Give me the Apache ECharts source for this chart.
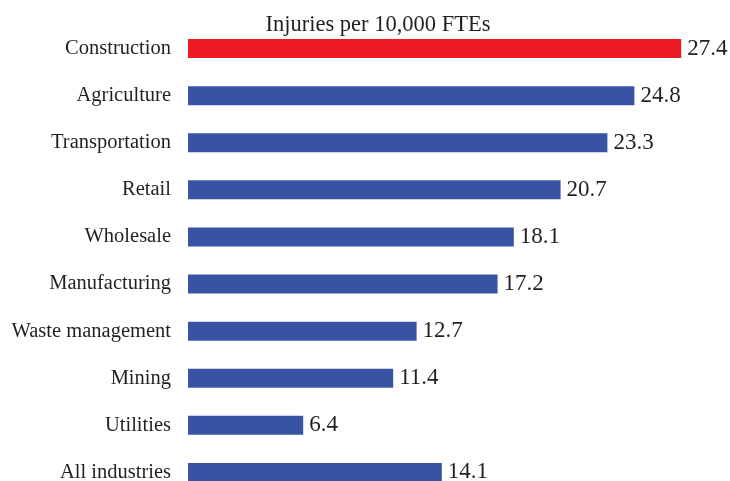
<!DOCTYPE html>
<html>
<head>
<meta charset="utf-8">
<script src="https://cdn.jsdelivr.net/npm/echarts@6/dist/echarts.min.js"></script>
<style>
  html, body { margin: 0; padding: 0; background: #fff; }
  #chart { width: 730px; height: 481px; }
</style>
</head>
<body>
<div id="chart"></div>
<script>
  // categories from top to bottom
  var industries = ['Construction', 'Agriculture', 'Transportation', 'Retail', 'Wholesale',
    'Manufacturing', 'Waste management', 'Mining', 'Utilities', 'All industries'];
  var injuryRates = [27.4, 24.8, 23.3, 20.7, 18.1, 17.2, 12.7, 11.4, 6.4, 14.1];
  var highlight = 'Construction';

  var chart = echarts.init(document.getElementById('chart'));
  var font = '"Liberation Serif", "Times New Roman", serif';

  var option = {
    animation: false,
    title: {
      text: 'Injuries per 10,000 FTEs',
      left: 373,
      top: 9,
      textAlign: 'center',
      textStyle: { fontFamily: font, fontSize: 22.5, fontWeight: 'normal', color: '#231f20' }
    },
    grid: { left: 188, right: 2, top: 25, height: 471, outerBoundsMode: 'none', containLabel: false },
    xAxis: {
      type: 'value',
      min: 0,
      max: 30,
      show: false
    },
    yAxis: {
      type: 'category',
      inverse: true,
      data: industries,
      axisLine: { show: false },
      axisTick: { show: false },
      axisLabel: { margin: 17, fontFamily: font, fontSize: 20.5, color: '#231f20' }
    },
    series: [{
      type: 'bar',
      barWidth: 19,
      data: injuryRates.map(function (v, i) {
        return {
          value: v,
          itemStyle: { color: industries[i] === highlight ? '#ed1c24' : '#3953a4' }
        };
      }),
      label: {
        show: true,
        position: 'right',
        distance: 6,
        formatter: function (p) { return p.value.toFixed(1); },
        fontFamily: font,
        fontSize: 23,
        color: '#231f20'
      }
    }]
  };

  chart.setOption(option);
</script>
</body>
</html>
